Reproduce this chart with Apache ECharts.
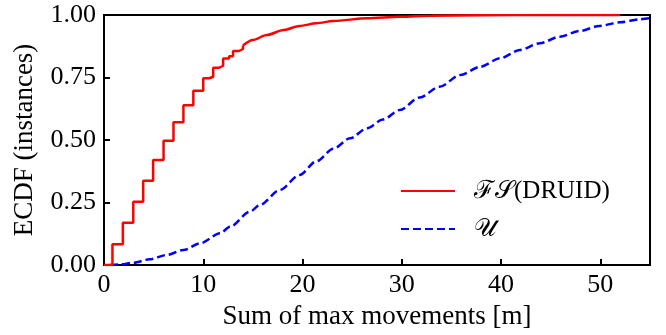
<!DOCTYPE html>
<html>
<head>
<meta charset="utf-8">
<script src="https://cdn.jsdelivr.net/npm/echarts@6/dist/echarts.min.js"></script>
<style>
  html, body { margin: 0; padding: 0; background: #fff; }
  #chart { width: 666px; height: 335px; }
</style>
</head>
<body>
<div id="chart"></div>
<script>
// ECDF of the DRUID sampler: steps at small integers ...
const fsStepX = [0, 0.85, 1.9, 2.95, 3.95, 4.95, 6, 7, 8, 9, 10, 10.6, 11, 11.6, 12, 12.6, 13, 13.6, 14]
const fsStepY = [0, 0.083, 0.169, 0.253, 0.337, 0.42, 0.497, 0.571, 0.639, 0.697, 0.747, 0.753, 0.789, 0.797, 0.826, 0.835, 0.856, 0.864, 0.878]
// ... then a smooth tail
const fsTailX = [14, 15, 16.4, 18.1, 19.7, 21.4, 23.1, 26.5, 29.8, 33, 38, 45, 52]
const fsTailY = [0.878, 0.9, 0.92, 0.94, 0.956, 0.967, 0.976, 0.987, 0.993, 0.997, 0.999, 1.0, 1.0]
// ECDF of the uniform sampler
const uX = [0.6, 1.5, 3, 4.6, 6.3, 8, 9.7, 11.7, 12.7, 14.7, 15.7, 17.7, 19.7, 21.4, 23.1, 24.8, 26.5, 28.1, 29.8, 31.8, 33.8, 35.9, 37.9, 39.9, 41.9, 43.9, 45.9, 47.9, 49.9, 52, 54, 55]
const uY = [0, 0.002, 0.009, 0.023, 0.04, 0.06, 0.087, 0.127, 0.153, 0.213, 0.24, 0.3, 0.36, 0.415, 0.465, 0.507, 0.547, 0.582, 0.62, 0.67, 0.713, 0.76, 0.793, 0.827, 0.86, 0.887, 0.913, 0.936, 0.956, 0.971, 0.983, 0.987]
const seriesNames = ['ℱ𝒮(DRUID)', '𝒰']

const font = 'Liberation Serif'
const red = '#ff0000'
const blue = '#0000ff'
const chart = echarts.init(document.getElementById('chart'))
const option = {
  animation: false,
  grid: {
    left: 104, right: 16, top: 15, bottom: 70,
    show: true,
    borderColor: '#000',
    borderWidth: 2
  },
  legend: {
    orient: 'vertical',
    left: 395,
    top: 171,
    itemWidth: 54,
    itemHeight: 14,
    itemGap: 8,
    itemStyle: { opacity: 0 },
    textStyle: {
      fontFamily: font,
      fontSize: 25,
      lineHeight: 30,
      color: '#000',
      padding: [0, 0, 0, 14]
    },
    data: seriesNames
  },
  xAxis: {
    type: 'value',
    min: 0,
    max: 55,
    interval: 10,
    name: 'Sum of max movements [m]',
    nameLocation: 'middle',
    nameGap: 38,
    nameTextStyle: { fontFamily: font, fontSize: 27, color: '#000' },
    axisLine: { lineStyle: { color: '#000', width: 2 } },
    axisTick: { inside: true, length: 6, lineStyle: { color: '#000', width: 2 } },
    axisLabel: { fontFamily: font, fontSize: 26, color: '#000', margin: 7, showMaxLabel: false },
    splitLine: { show: false }
  },
  yAxis: {
    type: 'value',
    min: 0,
    max: 1,
    interval: 0.25,
    name: 'ECDF (instances)',
    nameLocation: 'middle',
    nameGap: 66,
    nameTextStyle: { fontFamily: font, fontSize: 27, color: '#000' },
    axisLine: { show: true, lineStyle: { color: '#000', width: 2 } },
    axisTick: { show: true, inside: true, length: 6, lineStyle: { color: '#000', width: 2 } },
    axisLabel: {
      fontFamily: font, fontSize: 26, color: '#000', margin: 8,
      formatter: v => v.toFixed(2)
    },
    splitLine: { show: false }
  },
  series: [
    {
      name: seriesNames[0],
      type: 'line',
      step: 'end',
      symbol: 'none',
      data: fsStepX.map((x, i) => [x, fsStepY[i]]),
      lineStyle: { color: red, width: 2.5 },
      itemStyle: { color: red },
      z: 3
    },
    {
      name: seriesNames[0],
      type: 'line',
      smooth: 0.3,
      smoothMonotone: 'x',
      symbol: 'none',
      data: fsTailX.map((x, i) => [x, fsTailY[i]]),
      lineStyle: { color: red, width: 2.5 },
      itemStyle: { color: red },
      z: 3
    },
    {
      name: seriesNames[1],
      type: 'line',
      smooth: 0.3,
      smoothMonotone: 'x',
      symbol: 'none',
      data: uX.map((x, i) => [x, uY[i]]),
      lineStyle: { color: blue, width: 2.5, type: [8, 4] },
      itemStyle: { color: blue },
      z: 2
    }
  ]
}
chart.setOption(option)
</script>
</body>
</html>
